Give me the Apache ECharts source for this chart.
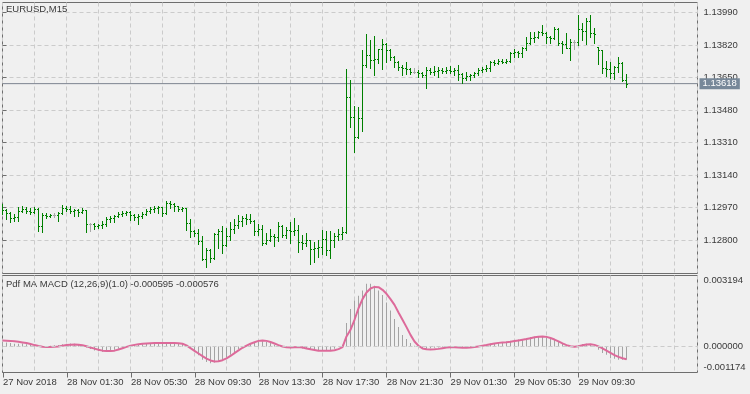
<!DOCTYPE html>
<html><head><meta charset="utf-8">
<script src="https://cdn.jsdelivr.net/npm/echarts@6/dist/echarts.min.js"></script>
<style>html,body{margin:0;padding:0;background:#f0f0f0;}#c{width:750px;height:394px;}</style>
</head><body><div id="c"></div>
<script>
const timeLabels = ['27 Nov 2018','28 Nov 01:30','28 Nov 05:30','28 Nov 09:30','28 Nov 13:30','28 Nov 17:30','28 Nov 21:30','29 Nov 01:30','29 Nov 05:30','29 Nov 09:30'];
const priceTicks = ['1.12800','1.12970','1.13140','1.13310','1.13480','1.13650','1.13820','1.13990'];
const macdTicks = ['-0.001174','0.000000','0.003194'];
const lastPrice = 1.13618;
const titleMain = 'EURUSD,M15';
const titleSub = 'Pdf MA MACD (12,26,9)(1.0) -0.000595 -0.000576';

const openP = [1.12952,1.12957,1.12941,1.12915,1.12920,1.12952,1.12962,1.12952,1.12946,1.12962,
1.12873,1.12931,1.12925,1.12931,1.12931,1.12941,1.12967,1.12962,1.12952,1.12957,
1.12946,1.12957,1.12884,1.12884,1.12873,1.12878,1.12884,1.12910,1.12915,1.12925,
1.12936,1.12941,1.12946,1.12931,1.12920,1.12925,1.12936,1.12952,1.12962,1.12967,
1.12972,1.12941,1.12993,1.12988,1.12978,1.12962,1.12967,1.12889,1.12847,1.12837,
1.12795,1.12701,1.12748,1.12706,1.12831,1.12847,1.12774,1.12821,1.12857,1.12878,
1.12899,1.12915,1.12910,1.12899,1.12847,1.12857,1.12784,1.12800,1.12821,1.12816,
1.12873,1.12826,1.12852,1.12847,1.12852,1.12790,1.12784,1.12800,1.12753,1.12758,
1.12763,1.12805,1.12748,1.12800,1.12821,1.12831,1.12842,1.13547,1.13443,1.13338,
1.13438,1.13715,1.13767,1.13741,1.13746,1.13798,1.13824,1.13793,1.13756,1.13730,
1.13704,1.13699,1.13694,1.13678,1.13678,1.13673,1.13662,1.13688,1.13678,1.13683,
1.13688,1.13683,1.13688,1.13683,1.13688,1.13668,1.13647,1.13657,1.13662,1.13673,
1.13688,1.13694,1.13699,1.13730,1.13725,1.13735,1.13730,1.13735,1.13777,1.13782,
1.13777,1.13803,1.13830,1.13856,1.13861,1.13887,1.13882,1.13861,1.13856,1.13903,
1.13830,1.13824,1.13803,1.13835,1.13835,1.13903,1.13892,1.13945,1.13882,1.13809,
1.13793,1.13699,1.13694,1.13673,1.13704,1.13725,1.13636];
const highP = [1.12988,1.12962,1.12946,1.12936,1.12972,1.12978,1.12972,1.12967,1.12972,1.12967,
1.12941,1.12941,1.12936,1.12941,1.12946,1.12983,1.12978,1.12978,1.12962,1.12962,
1.12967,1.12957,1.12889,1.12889,1.12884,1.12899,1.12920,1.12925,1.12931,1.12946,
1.12952,1.12952,1.12952,1.12936,1.12936,1.12946,1.12962,1.12972,1.12978,1.12978,
1.12975,1.13004,1.13004,1.12993,1.12978,1.12972,1.12967,1.12910,1.12852,1.12857,
1.12821,1.12758,1.12753,1.12837,1.12857,1.12873,1.12863,1.12894,1.12910,1.12931,
1.12925,1.12936,1.12936,1.12905,1.12884,1.12878,1.12837,1.12857,1.12831,1.12894,
1.12878,1.12868,1.12894,1.12915,1.12878,1.12826,1.12837,1.12800,1.12790,1.12800,
1.12852,1.12847,1.12847,1.12837,1.12857,1.12868,1.13694,1.13636,1.13500,1.13495,
1.13793,1.13877,1.13845,1.13866,1.13798,1.13850,1.13830,1.13798,1.13762,1.13735,
1.13715,1.13730,1.13699,1.13699,1.13688,1.13678,1.13704,1.13699,1.13709,1.13704,
1.13699,1.13704,1.13709,1.13699,1.13715,1.13673,1.13678,1.13668,1.13678,1.13699,
1.13704,1.13715,1.13735,1.13741,1.13746,1.13746,1.13746,1.13782,1.13798,1.13788,
1.13809,1.13861,1.13887,1.13887,1.13892,1.13924,1.13887,1.13866,1.13913,1.13908,
1.13840,1.13882,1.13850,1.13845,1.13976,1.13934,1.13960,1.13976,1.13908,1.13809,
1.13793,1.13735,1.13730,1.13709,1.13756,1.13730,1.13668];
const lowP = [1.12936,1.12910,1.12894,1.12899,1.12899,1.12946,1.12941,1.12936,1.12941,1.12847,
1.12842,1.12915,1.12920,1.12920,1.12899,1.12936,1.12952,1.12941,1.12925,1.12925,
1.12941,1.12842,1.12847,1.12857,1.12863,1.12863,1.12873,1.12894,1.12894,1.12920,
1.12925,1.12931,1.12905,1.12905,1.12884,1.12915,1.12931,1.12941,1.12946,1.12941,
1.12925,1.12936,1.12967,1.12952,1.12952,1.12952,1.12852,1.12816,1.12821,1.12779,
1.12695,1.12659,1.12685,1.12701,1.12758,1.12732,1.12769,1.12800,1.12837,1.12863,
1.12873,1.12884,1.12889,1.12826,1.12826,1.12774,1.12779,1.12795,1.12769,1.12795,
1.12816,1.12810,1.12784,1.12826,1.12737,1.12753,1.12769,1.12675,1.12685,1.12711,
1.12727,1.12722,1.12706,1.12763,1.12800,1.12805,1.12837,1.13391,1.13260,1.13333,
1.13370,1.13704,1.13699,1.13662,1.13725,1.13694,1.13730,1.13741,1.13704,1.13688,
1.13662,1.13668,1.13668,1.13673,1.13652,1.13652,1.13594,1.13668,1.13662,1.13652,
1.13673,1.13673,1.13673,1.13662,1.13636,1.13621,1.13636,1.13636,1.13652,1.13662,
1.13678,1.13683,1.13683,1.13715,1.13720,1.13725,1.13725,1.13730,1.13756,1.13756,
1.13756,1.13793,1.13824,1.13835,1.13856,1.13871,1.13830,1.13830,1.13850,1.13819,
1.13777,1.13803,1.13741,1.13798,1.13819,1.13845,1.13824,1.13861,1.13830,1.13720,
1.13673,1.13657,1.13647,1.13641,1.13678,1.13631,1.13600];
const closeP = [1.12957,1.12941,1.12915,1.12920,1.12952,1.12962,1.12952,1.12946,1.12962,1.12873,
1.12931,1.12925,1.12931,1.12931,1.12941,1.12967,1.12962,1.12952,1.12957,1.12946,
1.12957,1.12884,1.12884,1.12873,1.12878,1.12884,1.12910,1.12915,1.12925,1.12936,
1.12941,1.12946,1.12931,1.12920,1.12925,1.12936,1.12952,1.12962,1.12967,1.12972,
1.12941,1.12993,1.12988,1.12978,1.12962,1.12967,1.12889,1.12847,1.12837,1.12795,
1.12701,1.12748,1.12706,1.12831,1.12847,1.12774,1.12821,1.12857,1.12878,1.12899,
1.12915,1.12910,1.12899,1.12847,1.12857,1.12784,1.12800,1.12821,1.12816,1.12873,
1.12826,1.12852,1.12847,1.12852,1.12790,1.12784,1.12800,1.12753,1.12758,1.12763,
1.12805,1.12748,1.12800,1.12821,1.12831,1.12842,1.13547,1.13443,1.13338,1.13438,
1.13715,1.13767,1.13741,1.13746,1.13798,1.13824,1.13793,1.13756,1.13730,1.13704,
1.13699,1.13694,1.13678,1.13678,1.13673,1.13662,1.13688,1.13678,1.13683,1.13688,
1.13683,1.13688,1.13683,1.13688,1.13668,1.13647,1.13657,1.13662,1.13673,1.13688,
1.13694,1.13699,1.13730,1.13725,1.13735,1.13730,1.13735,1.13777,1.13782,1.13777,
1.13803,1.13830,1.13856,1.13861,1.13887,1.13882,1.13861,1.13856,1.13903,1.13830,
1.13824,1.13803,1.13835,1.13835,1.13903,1.13892,1.13945,1.13882,1.13877,1.13793,
1.13699,1.13694,1.13673,1.13704,1.13725,1.13636,1.13618];

const macdHist = [0.00020,0.00018,0.00015,0.00012,0.00012,0.00013,0.00010,0.00008,0.00008,0.00002,
-0.00002,-0.00001,0.00003,0.00005,0.00006,0.00010,0.00012,0.00013,0.00012,0.00010,
0.00006,-0.00005,-0.00012,-0.00018,-0.00022,-0.00024,-0.00023,-0.00020,-0.00015,-0.00010,
-0.00005,0.00000,0.00004,0.00008,0.00009,0.00010,0.00012,0.00014,0.00016,0.00016,
0.00014,0.00016,0.00018,0.00017,0.00015,0.00013,0.00003,-0.00010,-0.00025,-0.00040,
-0.00060,-0.00070,-0.00076,-0.00072,-0.00065,-0.00060,-0.00050,-0.00038,-0.00025,-0.00012,
-0.00002,0.00006,0.00012,0.00018,0.00022,0.00023,0.00020,0.00015,0.00008,0.00005,
0.00000,-0.00003,-0.00003,-0.00002,-0.00005,-0.00009,-0.00012,-0.00015,-0.00018,-0.00020,
-0.00018,-0.00019,-0.00016,-0.00010,-0.00002,0.00007,0.00105,0.00168,0.00207,0.00228,
0.00252,0.00282,0.00282,0.00273,0.00252,0.00232,0.00198,0.00162,0.00123,0.00087,
0.00052,0.00033,0.00015,0.00003,-0.00002,-0.00007,-0.00011,-0.00008,-0.00006,-0.00005,
-0.00004,-0.00004,-0.00003,-0.00004,-0.00005,-0.00007,-0.00006,-0.00005,-0.00003,-0.00001,
0.00003,0.00008,0.00013,0.00016,0.00018,0.00020,0.00022,0.00026,0.00029,0.00031,
0.00034,0.00038,0.00042,0.00044,0.00046,0.00045,0.00040,0.00034,0.00030,0.00022,
0.00014,0.00006,0.00001,-0.00003,0.00005,0.00011,0.00012,0.00009,0.00002,-0.00015,
-0.00030,-0.00037,-0.00053,-0.00056,-0.00060,-0.00060,-0.000595];
const macdSignal = [0.00027,0.00026,0.00025,0.00023,0.00021,0.00018,0.00015,0.00011,0.00006,0.00002,
-0.00001,-0.00003,-0.00003,-0.00002,0.00000,0.00003,0.00006,0.00008,0.00009,0.00008,
0.00005,0.00001,-0.00005,-0.00010,-0.00015,-0.00019,-0.00021,-0.00021,-0.00019,-0.00014,
-0.00008,-0.00002,0.00003,0.00007,0.00010,0.00012,0.00013,0.00014,0.00015,0.00015,
0.00015,0.00015,0.00015,0.00015,0.00014,0.00012,0.00005,-0.00008,-0.00020,-0.00032,
-0.00044,-0.00055,-0.00063,-0.00068,-0.00067,-0.00062,-0.00054,-0.00043,-0.00030,-0.00018,
-0.00006,0.00004,0.00012,0.00019,0.00025,0.00027,0.00025,0.00020,0.00013,0.00006,
0.00000,-0.00004,-0.00005,-0.00004,-0.00003,-0.00005,-0.00009,-0.00013,-0.00016,-0.00019,
-0.00020,-0.00020,-0.00019,-0.00017,-0.00012,-0.00003,0.00045,0.00075,0.00120,0.00172,
0.00213,0.00243,0.00261,0.00268,0.00267,0.00255,0.00237,0.00213,0.00187,0.00153,
0.00120,0.00087,0.00052,0.00022,0.00003,-0.00009,-0.00013,-0.00014,-0.00013,-0.00011,
-0.00008,-0.00005,-0.00004,-0.00004,-0.00005,-0.00006,-0.00006,-0.00005,-0.00003,0.00000,
0.00003,0.00006,0.00010,0.00013,0.00016,0.00018,0.00019,0.00021,0.00024,0.00027,
0.00030,0.00033,0.00037,0.00041,0.00044,0.00045,0.00043,0.00038,0.00031,0.00023,
0.00014,0.00006,0.00001,-0.00001,0.00001,0.00005,0.00009,0.00010,0.00007,0.00000,
-0.00009,-0.00019,-0.00029,-0.00039,-0.00047,-0.00053,-0.000576];

const FONT = 'Liberation Sans';
const FS = 9.5;
const TXT = '#3a3a3a';
const GRIDC = '#cbcbcb';
const BORDER = '#6e6e6e';
const UPC = '#008000';
const DOJIC = '#a8a8a8';
const pMin = 1.12626, pMax = 1.14042;
const mMin = -0.001174, mMax = 0.003194;
const L = 2.5, W = 695, T1 = 2.5, H1 = 271, T2 = 275.5, H2 = 97;
const xMax = W / 4;
const tickLo = 1.1280, tickHi = 1.1399;
const guideTop = T1 + H1 * (pMax - tickHi) / (pMax - pMin);
const guideH = H1 * (tickHi - tickLo) / (pMax - pMin);
const guideMax = priceTicks.length - 1;
const labelShift = 5 * (mMax - mMin) / H2;

const ohlc = openP.map((o, i) => [i, o, highP[i], lowP[i], closeP[i]]);
const dash = {type: [4, 3], color: GRIDC, width: 1};

const chart = echarts.init(document.getElementById('c'), null, {renderer: 'canvas'});
chart.setOption({
  animation: false,
  backgroundColor: '#f0f0f0',
  textStyle: {fontFamily: FONT},
  title: [
    {text: titleMain, left: 6, top: 4, padding: 0, textStyle: {fontFamily: FONT, fontSize: FS, fontWeight: 'normal', color: TXT}},
    {text: titleSub, left: 6, top: 279.5, padding: 0, textStyle: {fontFamily: FONT, fontSize: FS, fontWeight: 'normal', color: TXT}}
  ],
  grid: [
    {left: L, top: T1, width: W, height: H1, show: true, borderColor: BORDER, borderWidth: 1, backgroundColor: 'transparent'},
    {left: L, top: guideTop, width: W, height: guideH, show: false},
    {left: L, top: T2, width: W, height: H2, show: true, borderColor: BORDER, borderWidth: 1, backgroundColor: 'transparent'},
    {left: L, top: T2, width: 576, height: H2, show: false}
  ],
  xAxis: [
    {type: 'value', gridIndex: 0, min: 0, max: xMax, interval: 8, axisLine: {show: false}, axisTick: {show: false}, axisLabel: {show: false}, splitLine: {show: true, lineStyle: dash}},
    {type: 'value', gridIndex: 1, min: 0, max: xMax, show: false},
    {type: 'value', gridIndex: 2, min: 0, max: xMax, interval: 8, axisLine: {show: false}, axisTick: {show: false}, axisLabel: {show: false}, splitLine: {show: true, lineStyle: dash}},
    {type: 'value', gridIndex: 3, min: 0, max: 144, interval: 16, position: 'bottom',
      axisLine: {show: false}, axisTick: {show: true, length: 5, lineStyle: {color: BORDER}},
      axisLabel: {show: true, align: 'left', margin: 5, fontFamily: FONT, fontSize: FS, color: TXT, formatter: v => timeLabels[Math.round(v / 16)] || ''},
      splitLine: {show: false}}
  ],
  yAxis: [
    {type: 'value', gridIndex: 0, min: pMin, max: pMax, show: false, splitLine: {show: false}},
    {type: 'value', gridIndex: 1, min: 0, max: guideMax, interval: 1, position: 'right',
      axisLine: {show: false}, axisTick: {show: true, length: 4, lineStyle: {color: BORDER}},
      axisLabel: {show: true, margin: 6, fontFamily: FONT, fontSize: FS, color: TXT, hideOverlap: false,
        formatter: v => priceTicks[Math.round(v)] || ''},
      splitLine: {show: true, lineStyle: dash}},
    {type: 'value', gridIndex: 2, min: mMin, max: mMax, position: 'right',
      axisLine: {show: false},
      axisTick: {show: true, length: 4, lineStyle: {color: BORDER}, customValues: [mMin, 0, mMax]},
      axisLabel: {show: true, margin: 6, fontFamily: FONT, fontSize: FS, color: TXT,
        customValues: [mMin + labelShift, 0, mMax - labelShift],
        formatter: v => v > 0.001 ? macdTicks[2] : (v < -0.0005 ? macdTicks[0] : macdTicks[1])},
      splitLine: {show: false}},
    {type: 'value', gridIndex: 3, min: 0, max: 1, show: false}
  ],
  series: [
    {
      type: 'custom', xAxisIndex: 0, yAxisIndex: 0, data: ohlc, encode: {x: 0, y: [1, 2, 3, 4]},
      clip: true, z: 3,
      renderItem: function (params, api) {
        const i = api.value(0);
        const o = api.value(1), h = api.value(2), l = api.value(3), c = api.value(4);
        const ph = api.coord([i, h]), pl = api.coord([i, l]), po = api.coord([i, o]), pc = api.coord([i, c]);
        const x = Math.floor(ph[0]);
        const col = (o === c) ? DOJIC : UPC;
        const yh = Math.round(ph[1]), yl = Math.round(pl[1]);
        return {type: 'group', children: [
          {type: 'rect', shape: {x: x, y: yh, width: 1, height: Math.max(1, yl - yh + 1)}, style: {fill: col}},
          {type: 'rect', shape: {x: x - 1, y: Math.round(po[1]), width: 1, height: 1}, style: {fill: col}},
          {type: 'rect', shape: {x: x + 1, y: Math.round(pc[1]), width: 1, height: 1}, style: {fill: col}}
        ]};
      }
    },
    {
      type: 'line', xAxisIndex: 0, yAxisIndex: 0, data: [[0, lastPrice], [xMax, lastPrice]],
      symbol: 'none', silent: true, z: 2, clip: false,
      lineStyle: {color: '#7d8490', width: 1},
      endLabel: {show: true, distance: 2, formatter: lastPrice.toFixed(5),
        backgroundColor: '#778899', color: '#ffffff', padding: [1, 3, 0, 3], fontFamily: FONT, fontSize: FS}
    },
    {
      type: 'bar', xAxisIndex: 2, yAxisIndex: 2, barWidth: 1, data: macdHist.map((v, i) => [i, v]),
      itemStyle: {color: '#a3a3a3'},
      markLine: {silent: true, symbol: ['none', 'none'], animation: false, label: {show: false},
        lineStyle: {color: GRIDC, width: 1, type: [4, 3]}, data: [{yAxis: 0}]}
    },
    {
      type: 'line', xAxisIndex: 2, yAxisIndex: 2, data: macdSignal.map((v, i) => [i, v]),
      symbol: 'none', smooth: false, lineStyle: {color: '#dd6a9a', width: 2}
    }
  ]
});
</script>
</body></html>
